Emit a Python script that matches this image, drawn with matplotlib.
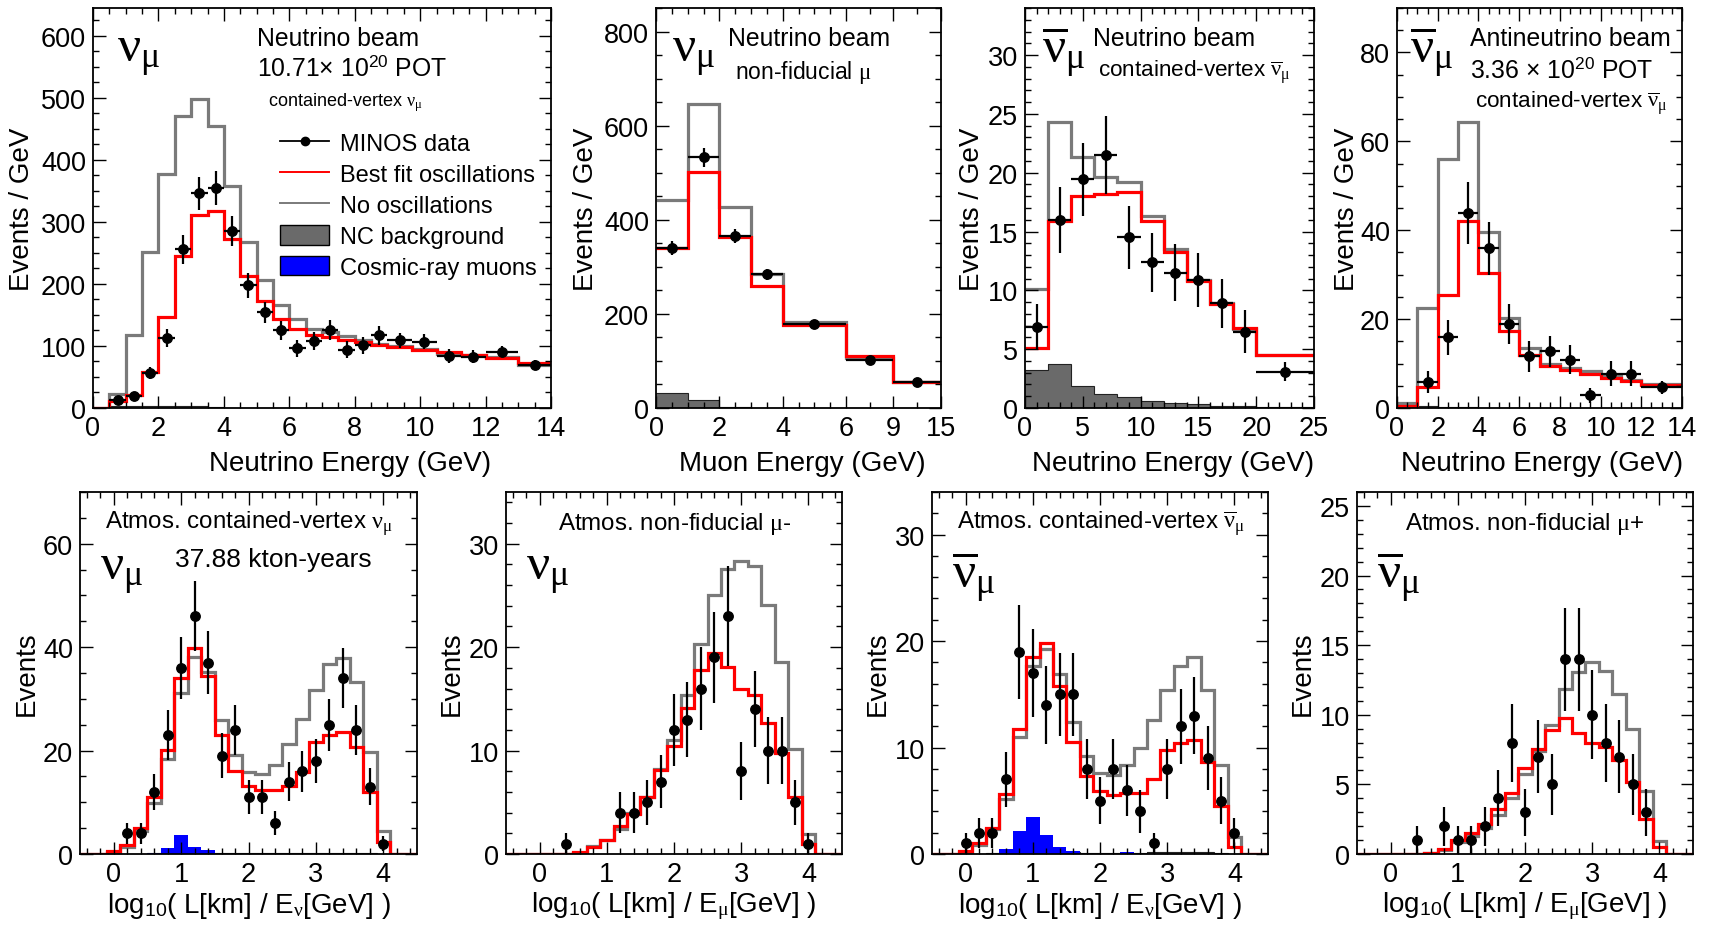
import numpy as np
import matplotlib
matplotlib.use("Agg")
import matplotlib.pyplot as plt
from matplotlib.ticker import MultipleLocator, FixedLocator
from matplotlib.lines import Line2D
from matplotlib.patches import Patch

plt.rcParams['font.family'] = ['Liberation Sans', 'DejaVu Sans']
plt.rcParams['mathtext.fontset'] = 'custom'
plt.rcParams['mathtext.rm'] = 'Liberation Sans'
plt.rcParams['mathtext.it'] = 'Liberation Serif'
plt.rcParams['mathtext.bf'] = 'Liberation Sans:bold'

nan = np.nan

# ---- top row: beam samples (events / GeV) ----
edges1 = [0, 0.5, 1, 1.5, 2, 2.5, 3, 3.5, 4, 4.5, 5, 5.5, 6, 6.5, 7, 7.5, 8, 8.5, 9,
          9.75, 10.5, 11.25, 12, 13, 14]
nosc1 = [0, 22.5, 117, 252, 378, 471, 499, 454, 358, 268, 207, 166, 144, 128, 122, 116,
         110, 103, 100, 95, 87, 86, 82, 70]
best1 = [0, 11, 21, 58, 146, 245, 312, 317, 272, 213, 173, 143, 128, 117, 114, 109,
         106, 101, 98, 94, 91, 86, 81, 72]
nc1 = [0, 3, 3, 3, 3, 3, 3, 1, 0.5, 0, 0, 0, 0, 0, 0, 0, 0, 0, 0, 0, 0, 0, 0, 0]
data1 = [nan, 13, 19, 56, 113, 256, 346, 355, 285, 198, 154, 125, 96, 108, 126, 94,
         101, 117, 109, 107, 84, 83, 91, 69]
err1 = [0, 5, 6, 10, 15, 23, 26, 27, 24, 20, 17, 16, 14, 15, 16, 14, 14, 15, 12, 12,
        11, 10, 9, 8]

edges2 = [0, 1, 2, 3, 4, 6, 9, 15]
nosc2 = [443, 645, 428, 284, 182, 106, 55]
best2 = [340, 502, 364, 260, 176, 110, 55]
nc2 = [32, 18, 2, 1, 0, 0, 0]
data2 = [340, 533, 366, 284, 179, 103, 55]
err2 = [15, 20, 15, 12, 7, 5, 3]

edges3 = [0, 2, 4, 6, 8, 10, 12, 14, 16, 18, 20, 25]
nosc3 = [10.15, 24.3, 21.3, 19.6, 19.2, 16.3, 13.5, 10.9, 8.9, 6.75, 4.5]
best3 = [5.1, 15.9, 18.0, 18.2, 18.4, 15.9, 13.3, 10.8, 8.8, 6.8, 4.5]
nc3 = [3.2, 3.7, 1.9, 1.2, 0.9, 0.6, 0.4, 0.3, 0.2, 0.15, 0.1]
data3 = [6.9, 16.0, 19.45, 21.5, 14.5, 12.4, 11.5, 10.9, 8.9, 6.5, 3.1]
err3 = [1.9, 2.8, 3.1, 3.3, 2.7, 2.5, 2.4, 2.3, 2.1, 1.8, 0.8]

edges4 = [0, 1, 2, 3, 4, 5, 6, 7, 8, 9, 10, 11, 12, 14]
nosc4 = [1.2, 22.4, 56.1, 64.4, 39.5, 20.3, 13.4, 9.8, 9.0, 8.3, 7.4, 6.2, 5.3]
best4 = [0.45, 4.7, 25.5, 42.0, 30.4, 17.3, 11.9, 9.4, 8.6, 7.7, 6.75, 6.0, 5.1]
nc4 = [0.2, 0.4, 0.3, 0.2, 0.1, 0, 0, 0, 0, 0, 0, 0, 0]
data4 = [nan, 5.9, 15.9, 43.8, 35.9, 18.8, 11.6, 12.8, 10.9, 2.85, 7.7, 7.7, 4.65]
err4 = [0, 2.5, 4, 7, 6, 4.5, 3.5, 3.5, 3.3, 1.7, 2.8, 2.8, 1.5]

# ---- bottom row: atmospheric samples, log10(L/E) bins of 0.2 from -0.5 to 4.5 ----
edges_atm = [-0.5, -0.3, -0.1, 0.1, 0.3, 0.5, 0.7, 0.9, 1.1, 1.3, 1.5, 1.7, 1.9, 2.1,
             2.3, 2.5, 2.7, 2.9, 3.1, 3.3, 3.5, 3.7, 3.9, 4.1, 4.3, 4.5]

best5 = [0, 0, 0.65, 1.8, 5.0, 11.0, 20.2, 34.1, 39.9, 34.5, 23.1, 16.1, 13.1, 12.3,
         12.3, 13.1, 15.8, 21.7, 23.1, 23.6, 20.7, 12.0, 2.4, 0, 0]
nosc5 = [0, 0, 0.3, 1.3, 4.5, 9.8, 18.4, 31.2, 38.0, 35.2, 26.0, 19.1, 15.8, 15.4,
         17.3, 21.2, 26.2, 31.8, 36.8, 37.9, 33.2, 19.8, 4.5, 0, 0]
cosmic5 = [0, 0, 0, 0, 0, 0.2, 1.1, 3.6, 1.4, 0.8, 0, 0, 0, 0, 0, 0, 0, 0, 0, 0, 0, 0,
           0, 0, 0]
nc5 = [0, 0, 0, 0, 0, 0.15, 0.2, 0.2, 0.2, 0.2, 0.15, 0.1, 0.1, 0.1, 0.1, 0.15, 0.15,
       0.2, 0.2, 0.2, 0.15, 0.1, 0, 0, 0]
data5 = [nan, nan, nan, 4, 4, 12, 23, 36, 46, 37, 19, 24, 11, 11, 6, 14, 16, 18, 25, 34,
         24, 13, 2, nan, nan]
err5 = [0, 0, 0, 2, 2, 3.5, 4.8, 6, 6.8, 6.1, 4.4, 4.9, 3.3, 3.3, 2.4, 3.7, 4, 4.2, 5,
        5.8, 4.9, 3.6, 1.4, 0, 0]

best6 = [0, 0, 0, 0, 0, 0.2, 0.7, 1.36, 2.75, 3.9, 5.5, 8.1, 10.4, 14.1, 17.8, 19.4,
         18.1, 16.0, 15.4, 12.7, 9.8, 5.5, 1.0, 0, 0]
nosc6 = [0, 0, 0, 0, 0, 0.1, 0.8, 1.36, 2.4, 4.0, 5.5, 8.2, 11.0, 15.4, 20.3, 25.0,
         27.6, 28.3, 27.8, 24.1, 18.6, 10.2, 1.9, 0, 0]
data6 = [nan, nan, nan, nan, 1, nan, nan, nan, 4, 4, 5, 7, 12, 13, 16, 19, 23, 8, 14, 10,
         10, 5, 1, nan, nan]
err6 = [0, 0, 0, 0, 1, 0, 0, 0, 2, 2, 2.2, 2.6, 3.5, 3.6, 4, 4.4, 4.8, 2.8, 3.7, 3.2,
        3.2, 2.2, 1, 0, 0]

best7 = [0, 0, 0.25, 1.0, 2.45, 5.65, 11.75, 18.5, 19.8, 15.8, 10.5, 7.3, 5.95, 5.55,
         5.7, 5.7, 7.05, 9.8, 10.4, 10.75, 8.6, 4.55, 0.7, 0, 0]
nosc7 = [0, 0, 0.2, 0.8, 2.35, 5.2, 11.0, 17.7, 19.3, 16.9, 12.4, 9.25, 7.6, 7.4, 8.4,
         10.0, 12.6, 15.4, 17.7, 18.5, 15.4, 8.4, 1.6, 0, 0]
cosmic7 = [0, 0, 0, 0, 0, 0.5, 2.2, 3.45, 1.8, 0.7, 0.25, 0, 0, 0, 0.2, 0, 0, 0, 0, 0,
           0, 0, 0, 0, 0]
nc7 = [0, 0, 0, 0, 0.1, 0.15, 0.2, 0.25, 0.25, 0.2, 0.15, 0.1, 0.05, 0.05, 0.05, 0.1,
       0.15, 0.15, 0.15, 0.15, 0.15, 0.1, 0, 0, 0]
data7 = [nan, nan, 1, 2, 2, 7, 19, 17, 14, 15, 15, 8, 5, 8, 6, 4, 1, 8, 12, 13, 9, 5, 2,
         nan, nan]
err7 = [0, 0, 1, 1.4, 1.4, 2.6, 4.4, 4.1, 3.7, 3.9, 3.9, 2.8, 2.2, 2.8, 2.4, 2, 1, 2.8,
        3.5, 3.6, 3, 2.2, 1.4, 0, 0]

best8 = [0, 0, 0, 0, 0, 0.1, 0.35, 1.0, 1.5, 2.15, 3.2, 4.4, 6.15, 7.55, 8.9, 9.8, 8.7,
         8.0, 7.7, 6.75, 5.2, 2.5, 0.5, 0, 0]
nosc8 = [0, 0, 0, 0, 0, 0.05, 0.3, 0.85, 1.3, 1.9, 2.8, 4.0, 5.75, 7.4, 9.3, 11.85,
         13.1, 13.8, 13.15, 11.5, 9.0, 4.55, 0.95, 0, 0]
data8 = [nan, nan, nan, nan, 1, nan, 2, 1, 1, 2, 4, 8, 3, 7, 5, 14, 14, 10, 8, 7, 5, 3,
         nan, nan, nan]
err8 = [0, 0, 0, 0, 1, 0, 1.4, 1, 1, 1.4, 2, 2.8, 1.7, 2.6, 2.2, 3.7, 3.7, 3.2, 2.8,
        2.6, 2.2, 1.7, 0, 0, 0]

GRAY = '#7a7a7a'
NCCOL = '#6a6a6a'
W, H = 1711, 929
TICKFS = 19.5
LABFS = 20
ANNFS = 17.8

fig = plt.figure(figsize=(W / 100, H / 100), dpi=100)


def box(l, t, r, b):
    return [l / W, 1 - b / H, (r - l) / W, (b - t) / H]


def draw(ax, edges, nosc, best, data, err, xerr=None, nc=None, cosmic=None):
    edges = np.asarray(edges, float)
    centers = 0.5 * (edges[1:] + edges[:-1])
    if xerr is None:
        xerr = 0.5 * np.diff(edges)
    if nc is not None:
        ax.stairs(nc, edges, fill=True, color=NCCOL, lw=0)
        ax.stairs(nc, edges, color='#222222', lw=0.8, baseline=None)
    if cosmic is not None:
        ax.stairs(cosmic, edges, fill=True, color='#0000ff', lw=0)
    ax.stairs(nosc, edges, color=GRAY, lw=2.3, baseline=None)
    ax.stairs(best, edges, color='#ff0000', lw=2.3, baseline=None)
    ax.errorbar(centers, data, yerr=err, xerr=xerr, fmt='o', color='k', ms=6.8,
                elinewidth=1.6, capsize=0, zorder=5)


def style(ax, xmaj, xmin, ymaj, ymin):
    if xmaj is not None:
        ax.xaxis.set_major_locator(MultipleLocator(xmaj))
        ax.xaxis.set_minor_locator(MultipleLocator(xmin))
    ax.yaxis.set_major_locator(MultipleLocator(ymaj))
    ax.yaxis.set_minor_locator(MultipleLocator(ymin))
    ax.tick_params(which='both', direction='in', top=True, right=True, labelsize=TICKFS,
                   width=1.0)
    ax.tick_params(which='major', length=9, pad=5)
    ax.tick_params(which='minor', length=4.5)
    for s in ax.spines.values():
        s.set_linewidth(1.3)


def labels(ax, xl, yl, xx, xy, yx):
    ax.set_xlabel(xl, fontsize=LABFS)
    ax.set_ylabel(yl, fontsize=LABFS)
    ax.xaxis.label.set_va('center')
    ax.yaxis.label.set_va('center')
    ax.xaxis.set_label_coords(xx, xy)
    ax.yaxis.set_label_coords(yx, 0.5)


def big_label(ax, x, y, bar=False):
    s = r'$\overline{\nu}_{\mu}$' if bar else r'$\nu_{\mu}$'
    ax.text(x, y, s, transform=ax.transAxes, fontsize=37, ha='left', va='baseline')


def txt(ax, x, y, s, fs=ANNFS):
    ax.text(x, y, s, transform=ax.transAxes, fontsize=fs, ha='left', va='center')


# ---------------- panel 1 ----------------
ax1 = fig.add_axes(box(93, 9, 551, 409))
draw(ax1, edges1, nosc1, best1, data1, err1, nc=nc1)
ax1.set_xlim(0, 14)
ax1.set_ylim(0, 645)
style(ax1, 2, 0.5, 100, 25)
labels(ax1, 'Neutrino Energy (GeV)', 'Events / GeV', 0.561, -0.1375, -0.155)
big_label(ax1, 0.052, 0.868)
txt(ax1, 0.357, 0.925, 'Neutrino beam')
txt(ax1, 0.357, 0.8525, r'10.71$\times$ 10$^{20}$ POT')
txt(ax1, 0.382, 0.765, r'contained-vertex $\nu_{\mu}$', 13)
handles = [Line2D([], [], color='k', marker='o', ms=6, lw=1.3),
           Line2D([], [], color='#ff0000', lw=1.4),
           Line2D([], [], color=GRAY, lw=1.4),
           Patch(facecolor=NCCOL, edgecolor='k'),
           Patch(facecolor='#0000ff', edgecolor='k')]
names = ['MINOS data', 'Best fit oscillations', 'No oscillations',
         'NC background', 'Cosmic-ray muons']
ax1.legend(handles, names, loc='upper left', bbox_to_anchor=(0.408, 0.69),
           frameon=False, fontsize=17, handlelength=2.1, handleheight=0.9,
           labelspacing=0.34, handletextpad=0.45, borderaxespad=0, borderpad=0)

# ---------------- panel 2 ----------------
ax2 = fig.add_axes(box(656, 9, 941, 409))
knots_e = [0, 6, 9, 15]
knots_u = [0, 6, 7.5, 9]
ax2.set_xscale('function', functions=(lambda x: np.interp(x, knots_e, knots_u),
                                      lambda u: np.interp(u, knots_u, knots_e)))
draw(ax2, edges2, nosc2, best2, data2, err2, nc=nc2)
ax2.set_xlim(0, 15)
ax2.set_ylim(0, 850)
style(ax2, None, None, 200, 50)
ax2.xaxis.set_major_locator(FixedLocator([0, 2, 4, 6, 9, 15]))
ax2.xaxis.set_minor_locator(FixedLocator([0.5, 1, 1.5, 2.5, 3, 3.5, 4.5, 5, 5.5, 7.5, 12]))
labels(ax2, 'Muon Energy (GeV)', 'Events / GeV', 0.512, -0.1375, -0.246)
big_label(ax2, 0.056, 0.868)
txt(ax2, 0.253, 0.925, 'Neutrino beam')
txt(ax2, 0.277, 0.8425, r'non-fiducial $\mu$', 16.5)

# ---------------- panel 3 ----------------
ax3 = fig.add_axes(box(1025, 9, 1314, 409))
draw(ax3, edges3, nosc3, best3, data3, err3, nc=nc3)
ax3.set_xlim(0, 25)
ax3.set_ylim(0, 34)
style(ax3, 5, 1, 5, 1)
labels(ax3, 'Neutrino Energy (GeV)', 'Events / GeV', 0.512, -0.1375, -0.183)
big_label(ax3, 0.059, 0.868, bar=True)
txt(ax3, 0.235, 0.925, 'Neutrino beam')
txt(ax3, 0.253, 0.8425, r'contained-vertex $\overline{\nu}_{\mu}$', 16.2)

# ---------------- panel 4 ----------------
ax4 = fig.add_axes(box(1397, 9, 1682, 409))
draw(ax4, edges4, nosc4, best4, data4, err4, nc=nc4)
ax4.set_xlim(0, 14)
ax4.set_ylim(0, 90)
style(ax4, 2, 0.5, 20, 5)
labels(ax4, 'Neutrino Energy (GeV)', 'Events / GeV', 0.509, -0.1375, -0.175)
big_label(ax4, 0.046, 0.868, bar=True)
txt(ax4, 0.256, 0.925, 'Antineutrino beam')
txt(ax4, 0.256, 0.8475, r'3.36$\,\times\,$10$^{20}$ POT')
txt(ax4, 0.274, 0.765, r'contained-vertex $\overline{\nu}_{\mu}$', 16.2)

# ---------------- bottom row ----------------
bottom = [
    (box(80, 493, 417, 855), best5, nosc5, data5, err5, nc5, cosmic5, 70, 20, 5,
     r'Atmos. contained-vertex $\nu_{\mu}$', 0.074, False, 0.76, r'\nu', -0.157),
    (box(506, 493, 842, 855), best6, nosc6, data6, err6, None, None, 35, 10, 2,
     r'Atmos. non-fiducial $\mu$-', 0.155, False, 0.76, r'\mu', -0.16),
    (box(932, 493, 1268, 855), best7, nosc7, data7, err7, nc7, cosmic7, 34, 10, 2,
     r'Atmos. contained-vertex $\overline{\nu}_{\mu}$', 0.074, True, 0.74, r'\nu', -0.16),
    (box(1357, 493, 1693, 855), best8, nosc8, data8, err8, None, None, 26, 5, 1,
     r'Atmos. non-fiducial $\mu$+', 0.143, True, 0.74, r'\mu', -0.16),
]
for i, (pos, best, nosc, data, err, nc, cosmic, ytop, ymaj, ymin, title, tx, bar, by,
        esub, ylx) in enumerate(bottom):
    ax = fig.add_axes(pos)
    draw(ax, edges_atm, nosc, best, data, err, xerr=0.05, nc=nc, cosmic=cosmic)
    ax.set_xlim(-0.5, 4.5)
    ax.set_ylim(0, ytop)
    style(ax, 1, 0.2, ymaj, ymin)
    labels(ax, r'log$_{10}$( L[km] / E$_{%s}$[GeV] )' % esub, 'Events', 0.5, -0.14, ylx)
    txt(ax, tx, 0.915, title, 17.4)
    big_label(ax, 0.06, by, bar=bar)
    if i == 0:
        txt(ax, 0.282, 0.815, '37.88 kton-years', 19)

fig.savefig('out.png', dpi=100)
